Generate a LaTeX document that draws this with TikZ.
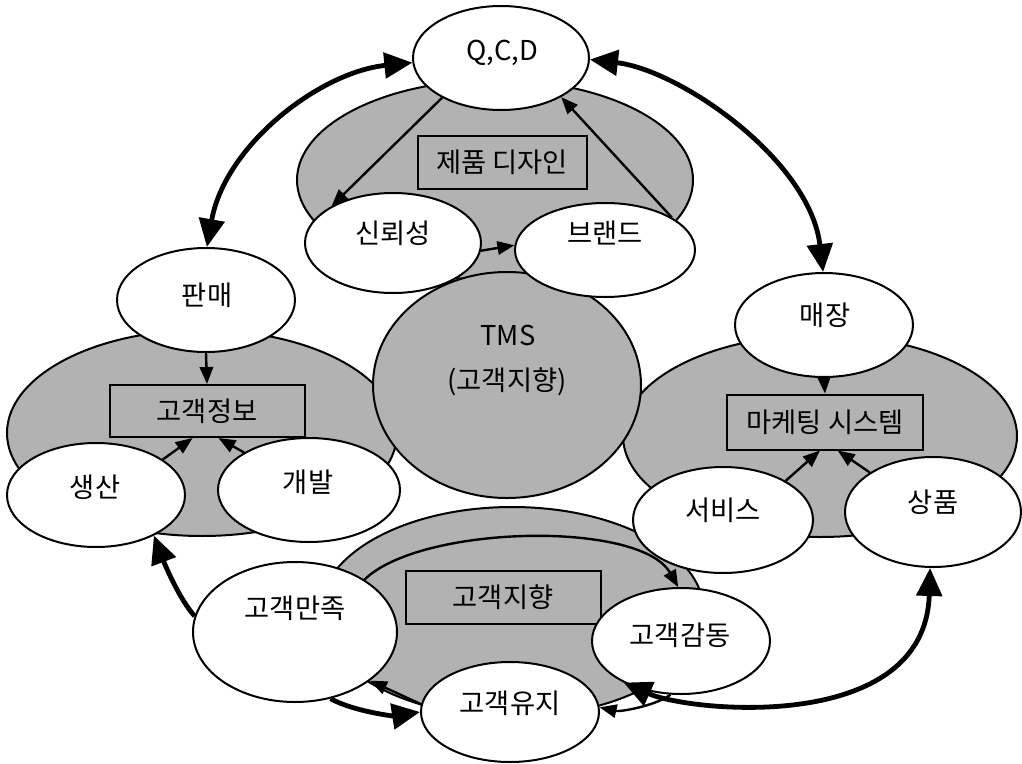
\documentclass[tikz,border=0pt]{standalone}
\usepackage{fontspec}
\setmainfont{Noto Sans CJK KR}
\usetikzlibrary{shapes.geometric,arrows.meta}
\definecolor{shade}{gray}{0.70}
\newcommand\lbl{\fontsize{20.5}{24}\selectfont}
\tikzset{
  ell/.style 2 args={ellipse, draw=black, line width=1.5pt, fill=white, inner sep=0pt, minimum width=#1*1.5pt, minimum height=#2*1.5pt},
  gell/.style 2 args={ellipse, draw=black, line width=1.5pt, fill=shade, inner sep=0pt, minimum width=#1*1.5pt, minimum height=#2*1.5pt},
  gbox/.style 2 args={rectangle, draw=black, line width=1.5pt, fill=shade, inner sep=0pt, minimum width=#1*0.75pt, minimum height=#2*0.75pt, font=\lbl},
  lbl/.style={font=\lbl, inner sep=0pt},
  tarrow/.style={line width=1.8pt, -{Triangle[length=12.75pt,width=10pt]}},
  barrow/.style={line width=3.6pt, -{Triangle[length=21pt,width=19pt]}},
  bbarrow/.style={line width=3.6pt, {Triangle[length=21pt,width=19pt]}-{Triangle[length=21pt,width=19pt]}}
}
\begin{document}
\begin{tikzpicture}[x=0.75pt,y=-0.75pt]
\useasboundingbox (0,0) rectangle (1022,764);
\fill[white] (0,0) rectangle (1022,764);

% gray cluster ellipses
\node[gell={198}{100}] (topg) at (495,180) {};
\node[gell={195}{103}] (leftg) at (202,433) {};
\node[gell={197}{101}] (rightg) at (820,436) {};
\node[gell={192}{105}] (botg) at (512,612) {};
\node[gell={134}{113}] (tms) at (507,385) {};

% boxes
\node[gbox={169}{53}] (design) at (502,162) {제품 디자인};
\node[gbox={195}{52}] (info) at (207,411) {고객정보};
\node[gbox={196}{55}] (mkt) at (825,422) {마케팅 시스템};
\node[gbox={195}{53}] (orient) at (503,597) {고객지향};

% white ellipses
\node[ell={88}{52}] (qcd) at (501,58) {};
\node[ell={88}{50}] (sin) at (393,243) {};
\node[ell={90}{47}] (brand) at (605,250) {};
\node[ell={89}{52}] (panmae) at (206,300) {};
\node[ell={89}{52}] (maejang) at (824,325) {};
\node[ell={89}{52}] (saengsan) at (96,495) {};
\node[ell={91}{52}] (gaebal) at (309,490) {};
\node[ell={90}{53}] (service) at (723,520) {};
\node[ell={88}{55}] (sangpum) at (933,512) {};
\node[ell={102}{70}] (manjok) at (295,632) {};
\node[ell={89}{53}] (gamdong) at (681,641) {};
\node[ell={89}{50}] (yuji) at (510,712) {};

% texts
\node[lbl] (qcd-t) at (502,53) {Q,C,D};
\node[lbl] (sin-t) at (393,233) {신뢰성};
\node[lbl] (brand-t) at (605,233) {브랜드};
\node[lbl] (panmae-t) at (207,295) {판매};
\node[lbl] (maejang-t) at (825,315) {매장};
\node[lbl] (saengsan-t) at (95,487) {생산};
\node[lbl] (gaebal-t) at (308,482) {개발};
\node[lbl] (service-t) at (723,510) {서비스};
\node[lbl] (sangpum-t) at (933,502) {상품};
\node[lbl] (manjok-t) at (295,608) {고객만족};
\node[lbl] (gamdong-t) at (680,635) {고객감동};
\node[lbl] (yuji-t) at (510,703) {고객유지};
\node[lbl] (tms-t1) at (508,335) {TMS};
\node[lbl] (tms-t2) at (507,382) {(고객지향)};

% connectors, top cluster
\draw[tarrow] (qcd.214) -- (sin.149);
\draw[tarrow] (brand.26) -- (qcd.327);
\draw[tarrow] (sin.355) -- (brand.177);
\draw[bbarrow] (qcd.183) .. controls (320,72) and (225,145) .. (panmae.89);
\draw[bbarrow] (qcd.359) .. controls (680,70) and (810,160) .. (maejang.91);

% left cluster
\draw[tarrow] (panmae.south) -- (info.north);
\draw[tarrow] (saengsan.28) -- (info.242);
\draw[tarrow] (gaebal.150) -- (info.293);

% right cluster
\draw[tarrow] (maejang.south) -- (mkt.north);
\draw[tarrow] (service.32) -- (mkt.260);
\draw[tarrow] (sangpum.148) -- (mkt.294);

% bottom cluster
\draw[barrow] (manjok.171) .. controls (180,600) and (165,565) .. (saengsan.325);
\draw[barrow] (manjok.298) .. controls (355,712) and (395,716) .. (yuji.180);
\draw[tarrow] (yuji.175) -- (manjok.327);
\draw[tarrow] (gamdong.259) .. controls (655,706) and (620,712) .. (yuji.3);
\draw[bbarrow] (gamdong.216) .. controls (690,712) and (925,735) .. (sangpum.267);
\draw[tarrow] (manjok.37) .. controls (420,525) and (640,520) .. (gamdong.93);
\end{tikzpicture}
\end{document}
